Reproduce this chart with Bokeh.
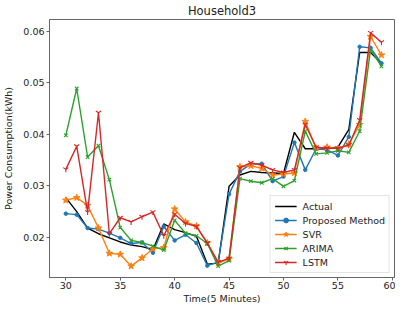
from bokeh.plotting import figure
from bokeh.models import FixedTicker, PrintfTickFormatter, Range1d, Legend
from bokeh.embed import file_html
from bokeh.resources import INLINE

steps = [30, 31, 32, 33, 34, 35, 36, 37, 38, 39, 40, 41, 42, 43, 44,
         45, 46, 47, 48, 49, 50, 51, 52, 53, 54, 55, 56, 57, 58, 59]

actual = [0.0277, 0.0250, 0.0218, 0.0207, 0.0199, 0.0191, 0.0185, 0.0182, 0.0176, 0.0226,
          0.0215, 0.0209, 0.0202, 0.0148, 0.0150, 0.0299, 0.0321, 0.0328, 0.0326, 0.0325,
          0.0324, 0.0404, 0.0372, 0.0372, 0.0373, 0.0375, 0.0409, 0.0559, 0.0559, 0.0538]
proposed = [0.0246, 0.0244, 0.0218, 0.0216, 0.0208, 0.0199, 0.0188, 0.0190, 0.0170, 0.0221,
            0.0194, 0.0205, 0.0189, 0.0145, 0.0152, 0.0284, 0.0328, 0.0342, 0.0343, 0.0309,
            0.0318, 0.0384, 0.0331, 0.0372, 0.0370, 0.0359, 0.0395, 0.0570, 0.0568, 0.0538]
svr = [0.0272, 0.0277, 0.0262, 0.0218, 0.0169, 0.0167, 0.0144, 0.0160, 0.0178, 0.0180,
       0.0255, 0.0230, 0.0222, 0.0189, 0.0150, 0.0158, 0.0337, 0.0339, 0.0334, 0.0321,
       0.0323, 0.0325, 0.0425, 0.0373, 0.0375, 0.0372, 0.0381, 0.0419, 0.0590, 0.0554]
arima = [0.0398, 0.0489, 0.0356, 0.0378, 0.0312, 0.0219, 0.0194, 0.0190, 0.0183, 0.0175,
         0.0233, 0.0208, 0.0203, 0.0188, 0.0144, 0.0155, 0.0314, 0.0309, 0.0306, 0.0314,
         0.0299, 0.0310, 0.0406, 0.0362, 0.0364, 0.0368, 0.0365, 0.0406, 0.0565, 0.0532]
lstm = [0.0332, 0.0377, 0.0249, 0.0442, 0.0207, 0.0238, 0.0230, 0.0240, 0.0249, 0.0203,
        0.0245, 0.0227, 0.0221, 0.0189, 0.0152, 0.0159, 0.0335, 0.0345, 0.0340, 0.0331,
        0.0326, 0.0331, 0.0419, 0.0375, 0.0373, 0.0373, 0.0379, 0.0428, 0.0597, 0.0579]

x_ticks = [30, 35, 40, 45, 50, 55, 60]
y_ticks = [0.02, 0.03, 0.04, 0.05, 0.06]

FONT = "DejaVu Sans"
SPINE = "#666666"
TXT = "#222222"

p = figure(width=395, height=306, output_backend="svg", toolbar_location=None,
           x_range=Range1d(28.5, 60.2), y_range=Range1d(0.0122, 0.0623),
           min_border_left=45, min_border_right=1, min_border_top=18, min_border_bottom=26,
           title="Household3")
p.title.align = "center"
p.title.text_font = FONT
p.title.text_font_size = "11.5px"
p.title.text_font_style = "normal"
p.title.text_color = TXT
p.title.standoff = 3

p.xgrid.visible = False
p.ygrid.visible = False
p.outline_line_color = SPINE
p.outline_line_width = 1
p.background_fill_color = "white"
p.border_fill_color = "white"

for ax in (p.xaxis[0], p.yaxis[0]):
    ax.axis_line_color = SPINE
    ax.major_tick_line_color = SPINE
    ax.minor_tick_line_color = None
    ax.major_tick_in = 0
    ax.major_tick_out = 3
    ax.major_label_text_font = FONT
    ax.major_label_text_font_size = "9.5px"
    ax.major_label_text_color = TXT
    ax.axis_label_text_font = FONT
    ax.axis_label_text_font_size = "9.5px"
    ax.axis_label_text_font_style = "normal"
    ax.axis_label_text_color = TXT
    ax.major_label_standoff = 2

p.xaxis.axis_label_standoff = 1
p.yaxis.axis_label_standoff = 6
p.xaxis.major_label_standoff = 1

p.xaxis.ticker = FixedTicker(ticks=x_ticks)
p.yaxis.ticker = FixedTicker(ticks=y_ticks)
p.yaxis.formatter = PrintfTickFormatter(format="%.2f")
p.xaxis.axis_label = "Time(5 Minutes)"
p.yaxis.axis_label = "Power Consumption(kWh)"

LW = 1.4
items = []
r = p.line(steps, actual, line_color="black", line_width=LW)
items.append(("Actual", [r]))

r1 = p.line(steps, proposed, line_color="#1f77b4", line_width=LW)
r2 = p.scatter(steps, proposed, marker="circle", size=3.5, fill_color="#1f77b4", line_color="#1f77b4")
items.append(("Proposed Method", [r1, r2]))

r1 = p.line(steps, svr, line_color="#ff7f0e", line_width=LW)
r2 = p.scatter(steps, svr, marker="star", size=7, fill_color="#ff7f0e", line_color="#ff7f0e")
items.append(("SVR", [r1, r2]))

r1 = p.line(steps, arima, line_color="#2ca02c", line_width=LW)
r2 = p.scatter(steps, arima, marker="x", size=5, line_color="#2ca02c", line_width=1.1)
items.append(("ARIMA", [r1, r2]))

r1 = p.line(steps, lstm, line_color="#d62728", line_width=LW)
r2 = p.scatter(steps, lstm, marker="y", size=6, line_color="#d62728", line_width=1.1)
items.append(("LSTM", [r1, r2]))

legend = Legend(items=items, location="bottom_right")
legend.label_text_font = FONT
legend.label_text_font_size = "9.5px"
legend.label_text_color = TXT
legend.border_line_color = "#cccccc"
legend.border_line_width = 1
legend.background_fill_alpha = 0.85
legend.glyph_width = 22
legend.glyph_height = 12
legend.label_height = 12
legend.label_standoff = 6
legend.spacing = 2
legend.padding = 4
legend.margin = 4
p.add_layout(legend, "center")

open("out.html", "w").write(file_html(p, INLINE))
